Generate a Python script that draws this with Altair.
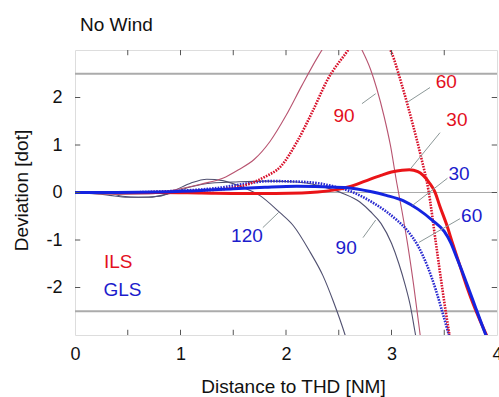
import altair as alt
import pandas as pd

FONT = "Liberation Sans"

# ---- series data (distance [NM], deviation [dot]) ----
ILS30_X = [0, 0.4, 0.8, 1.2, 1.6, 1.9, 2.15, 2.3, 2.45, 2.6, 2.75, 2.9, 3.0, 3.1, 3.17, 3.25, 3.3, 3.36, 3.41, 3.46, 3.52, 3.58, 3.65, 3.72, 3.78, 3.85, 3.92]
ILS30_Y = [0, 0, 0, -0.01, -0.02, -0.02, -0.01, 0.01, 0.05, 0.12, 0.24, 0.36, 0.43, 0.47, 0.48, 0.44, 0.36, 0.2, 0.02, -0.3, -0.66, -1.08, -1.55, -2.02, -2.38, -2.75, -3.1]

GLS30_X = [0, 0.4, 0.8, 1.2, 1.5, 1.8, 2.1, 2.35, 2.58, 2.8, 2.95, 3.11, 3.25, 3.39, 3.5, 3.56, 3.62, 3.68, 3.74, 3.8, 3.86, 3.92]
GLS30_Y = [0, 0, 0.01, 0.04, 0.08, 0.11, 0.13, 0.12, 0.1, 0.02, -0.06, -0.17, -0.35, -0.59, -0.82, -1.05, -1.38, -1.72, -2.08, -2.44, -2.8, -3.15]

ILS60_X = [0, 0.4, 0.8, 1.2, 1.5, 1.65, 1.8, 1.95, 2.1, 2.25, 2.4, 2.55, 2.7, 2.8, 2.9, 3.0, 3.1, 3.2, 3.28, 3.35, 3.42, 3.48, 3.55, 3.6]
ILS60_Y = [0, 0, 0.01, 0.04, 0.1, 0.18, 0.33, 0.55, 1.05, 1.7, 2.4, 2.88, 3.3, 3.45, 3.35, 2.95, 2.25, 1.45, 0.75, 0.05, -1.05, -2.0, -3.0, -3.6]

GLS60_X = [0, 0.4, 0.8, 1.1, 1.37, 1.6, 1.85, 2.1, 2.32, 2.5, 2.64, 2.75, 2.85, 2.95, 3.05, 3.15, 3.25, 3.34, 3.42, 3.48, 3.54, 3.58]
GLS60_Y = [0, 0, 0.02, 0.05, 0.1, 0.18, 0.24, 0.23, 0.19, 0.1, 0.0, -0.12, -0.25, -0.4, -0.58, -0.8, -1.12, -1.55, -2.05, -2.5, -2.97, -3.3]

ILS90_X = [0, 0.4, 0.7, 1.0, 1.2, 1.4, 1.55, 1.7, 1.85, 2.0, 2.15, 2.3, 2.4, 2.5, 2.6, 2.72, 2.8, 2.86, 2.93, 2.99, 3.05, 3.1, 3.15, 3.21, 3.27, 3.3]
ILS90_Y = [0, -0.04, -0.03, 0.08, 0.18, 0.3, 0.48, 0.7, 1.08, 1.62, 2.25, 2.85, 3.2, 3.45, 3.45, 3.0, 2.6, 2.19, 1.6, 0.99, 0.2, -0.4, -1.05, -1.95, -2.97, -3.5]

GLS90_X = [0, 0.3, 0.5, 0.7, 0.9, 1.1, 1.3, 1.5, 1.8, 2.1, 2.3, 2.54, 2.7, 2.8, 2.9, 3.0, 3.07, 3.13, 3.18, 3.22, 3.26]
GLS90_Y = [0, -0.05, -0.1, -0.1, -0.02, 0.12, 0.2, 0.22, 0.24, 0.22, 0.15, -0.02, -0.2, -0.4, -0.65, -1.07, -1.5, -1.95, -2.4, -2.9, -3.4]

GLS120_X = [0, 0.3, 0.45, 0.6, 0.8, 0.95, 1.1, 1.25, 1.4, 1.6, 1.75, 1.94, 2.07, 2.23, 2.35, 2.45, 2.56, 2.6]
GLS120_Y = [0, 0, -0.08, -0.1, -0.08, 0.05, 0.2, 0.28, 0.25, 0.1, -0.06, -0.42, -0.7, -1.26, -1.75, -2.3, -3.0, -3.3]

THIN = [("GLS 120", GLS120_X, GLS120_Y), ("GLS 90", GLS90_X, GLS90_Y), ("ILS 90", ILS90_X, ILS90_Y)]
DOTTED = [("GLS 60", GLS60_X, GLS60_Y), ("ILS 60", ILS60_X, ILS60_Y)]
THICK = [("ILS 30", ILS30_X, ILS30_Y), ("GLS 30", GLS30_X, GLS30_Y)]
THIN_COLORS = ["#505070", "#505070", "#b85470"]
DOTTED_COLORS = ["#2a2ad0", "#d8102a"]
THICK_COLORS = ["#ea1418", "#1424e0"]

# reference lines
REF_Y = [2.5, -2.5, 0]
REF_W = [1.8, 1.8, 1]

# labels
LABEL_TEXT = ["90", "60", "30", "30", "60", "90", "120", "ILS", "GLS"]
LABEL_X = [2.55, 3.52, 3.62, 3.64, 3.76, 2.57, 1.63, 0.41, 0.45]
LABEL_Y = [1.62, 2.32, 1.52, 0.38, -0.5, -1.16, -0.91, -1.47, -2.06]
LABEL_COLOR = ["#e3101e", "#e3101e", "#e3101e", "#1c1ccc", "#1c1ccc", "#1c1ccc", "#1c1ccc", "#e3101e", "#1c1ccc"]

# leader lines
LEAD_X1 = [2.72, 3.365, 3.46, 3.53, 3.65, 2.73, 1.78]
LEAD_Y1 = [1.87, 2.21, 1.26, 0.30, -0.55, -0.95, -0.74]
LEAD_X2 = [2.85, 3.15, 3.18, 3.20, 3.26, 2.85, 1.93]
LEAD_Y2 = [2.08, 1.9, 0.5, -0.27, -1.05, -0.58, -0.42]

# inward tick marks
XTICKS = [0.5, 1, 1.5, 2, 2.5, 3, 3.5]
YTICKS = [-2, -1, 0, 1, 2]
XMIN, XMAX, YMIN, YMAX = 0, 4, -3, 3


def build(series):
    rows = []
    for name, xs, ys in series:
        for i, (x, y) in enumerate(zip(xs, ys)):
            rows.append({"series": name, "i": i, "x": x, "y": y})
    return pd.DataFrame(rows)


xscale = alt.Scale(domain=[XMIN, XMAX], nice=False, zero=False)
yscale = alt.Scale(domain=[YMIN, YMAX], nice=False, zero=False)

NUM_LABEL = "datum.value < 0 ? '-' + abs(datum.value) : '' + datum.value"

xaxis = alt.Axis(
    values=[0, 1, 2, 3, 4], grid=False, domain=False, ticks=False,
    labelExpr=NUM_LABEL,
    labelFont=FONT, labelFontSize=18, labelColor="#111", labelPadding=10,
    labelFlush=False,
    title="Distance to THD [NM]", titleFont=FONT, titleFontSize=19,
    titleFontWeight="normal", titleColor="#111", titleX=218, titleY=57,
    titleBaseline="alphabetic", titleAlign="center",
)
yaxis = alt.Axis(
    values=[-2, -1, 0, 1, 2], grid=False, domain=False, ticks=False,
    labelExpr=NUM_LABEL,
    labelFont=FONT, labelFontSize=18, labelColor="#111", labelPadding=13,
    title="Deviation [dot]", titleFont=FONT, titleFontSize=19,
    titleFontWeight="normal", titleColor="#111", titleX=-54, titleY=140,
    titleBaseline="middle", titleAlign="center", titleAngle=-90,
)

ref_df = pd.DataFrame({"y": REF_Y, "w": REF_W})
refs = alt.Chart(ref_df).mark_rule(color="#ababab").encode(
    x=alt.value(0), x2=alt.value(422),
    y=alt.Y("y:Q", scale=yscale, axis=yaxis),
    strokeWidth=alt.StrokeWidth("w:Q", scale=None),
)


def line_layer(series, colors, width, dash=None, axis=None):
    names = [s[0] for s in series]
    kw = dict(clip=True, interpolate="monotone", strokeWidth=width)
    if dash is not None:
        kw["strokeDash"] = dash
    return alt.Chart(build(series)).mark_line(**kw).encode(
        x=alt.X("x:Q", scale=xscale, axis=axis) if axis is not None else alt.X("x:Q", scale=xscale),
        y=alt.Y("y:Q", scale=yscale),
        detail="series:N",
        order="i:Q",
        color=alt.Color("series:N", scale=alt.Scale(domain=names, range=colors), legend=None),
    )


thin = line_layer(THIN, THIN_COLORS, 1.1, axis=xaxis)
dotted = line_layer(DOTTED, DOTTED_COLORS, 2.6, dash=[1.6, 1.2])
thick = line_layer(THICK, THICK_COLORS, 3)

lead_df = pd.DataFrame({"x": LEAD_X1, "y": LEAD_Y1, "x2": LEAD_X2, "y2": LEAD_Y2})
leaders = alt.Chart(lead_df).mark_rule(color="#8c9898", strokeWidth=1).encode(
    x=alt.X("x:Q", scale=xscale), y=alt.Y("y:Q", scale=yscale), x2="x2:Q", y2="y2:Q",
)

lab_df = pd.DataFrame({"t": LABEL_TEXT, "x": LABEL_X, "y": LABEL_Y, "c": LABEL_COLOR})
labels = alt.Chart(lab_df).mark_text(font=FONT, fontSize=19, align="center", baseline="middle").encode(
    x=alt.X("x:Q", scale=xscale), y=alt.Y("y:Q", scale=yscale), text="t:N",
    color=alt.Color("c:N", scale=None),
)

tk_rows = []
for t in XTICKS:
    tk_rows.append({"x": t, "x2": t, "y": YMIN, "y2": YMIN + 0.11})
    tk_rows.append({"x": t, "x2": t, "y": YMAX, "y2": YMAX - 0.11})
for t in YTICKS:
    tk_rows.append({"x": XMIN, "x2": XMIN + 0.05, "y": t, "y2": t})
    tk_rows.append({"x": XMAX, "x2": XMAX - 0.05, "y": t, "y2": t})
ticks = alt.Chart(pd.DataFrame(tk_rows)).mark_rule(color="#555", strokeWidth=1).encode(
    x=alt.X("x:Q", scale=xscale), y=alt.Y("y:Q", scale=yscale), x2="x2:Q", y2="y2:Q",
)

chart = alt.layer(refs, thin, dotted, thick, leaders, labels, ticks).resolve_scale(
    color="independent"
).properties(
    width=422, height=285,
    title=alt.TitleParams("No Wind", anchor="start", frame="group", dx=5, offset=15, fontSize=19,
                          font=FONT, fontWeight="normal", color="#111"),
    autosize=alt.AutoSizeParams(type="none"),
    padding={"left": 75, "top": 50, "right": 2, "bottom": 62},
).configure_view(stroke="#555", strokeWidth=1).configure(background="white")

chart.save("out.html", embed_options={"renderer": "svg", "actions": False})
